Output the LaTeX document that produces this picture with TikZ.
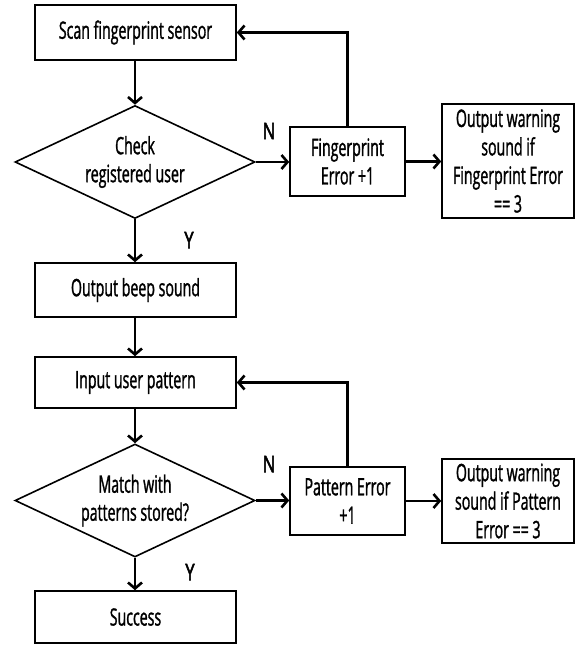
\documentclass[tikz,border=0pt]{standalone}
\usepackage{fontspec}
\setmainfont[FakeStretch=0.59,FakeBold=1.2]{Open Sans}
\newfontfamily\lblfont[FakeStretch=0.72,FakeBold=2.5]{Open Sans}
\usetikzlibrary{shapes.geometric,arrows.meta}
\tikzset{
  box/.style={draw, line width=1.6pt, rectangle, inner sep=0pt, align=center,
    font=\fontsize{24}{28.5}\selectfont},
  dia/.style={draw, line width=1.6pt, diamond, aspect=2.12, inner sep=0pt, align=center,
    minimum width=240pt, minimum height=113pt, font=\fontsize{24}{28}\selectfont},
  arr/.style={line width=2.6pt, -{Straight Barb[length=6pt,width=14pt]}},
  lbl/.style={font=\lblfont\fontsize{23}{25}\selectfont, inner sep=0pt}
}
\begin{document}
\begin{tikzpicture}[x=1pt,y=-1pt]
\useasboundingbox (0,0) rectangle (577,645);
\fill[white] (0,0) rectangle (577,645);
\node[box, minimum width=201pt, minimum height=55pt] (scan) at (135.5,32.5) {Scan fingerprint sensor};
\node[dia] (d1) at (135,162) {Check\\registered user};
\node[box, minimum width=115pt, minimum height=69pt] (fe) at (347.5,161.5) {Fingerprint\\Error +1};
\node[box, minimum width=132pt, minimum height=114pt] (ow1) at (508,161) {Output warning\\sound if\\Fingerprint Error\\== 3};
\node[box, minimum width=201pt, minimum height=54pt] (beep) at (135.5,290) {Output beep sound};
\node[box, minimum width=201pt, minimum height=51pt] (inp) at (135.5,382.5) {Input user pattern};
\node[dia] (d2) at (135,500.5) {Match with\\patterns stored?};
\node[box, minimum width=115pt, minimum height=68pt] (pe) at (347.5,501) {Pattern Error\\+1};
\node[box, minimum width=132pt, minimum height=84pt] (ow2) at (508,501) {Output warning\\sound if Pattern\\Error == 3};
\node[box, minimum width=201pt, minimum height=52pt] (succ) at (135.5,617) {Success};
\node[lbl] (n1) at (269,131) {N};
\node[lbl] (y1) at (189,240) {Y};
\node[lbl] (n2) at (269,464) {N};
\node[lbl] (y2) at (190,572) {Y};
\draw[arr] (scan.south -| d1.north) -- (d1.north);
\draw[arr] (d1.east) -- (fe.west |- d1.east);
\draw[arr] (fe.east) -- (ow1.west |- fe.east);
\draw[arr] (fe.north) |- (scan.east);
\draw[arr] (d1.south) -- (beep.north -| d1.south);
\draw[arr] (beep.south -| d1.south) -- (inp.north -| d1.south);
\draw[arr] (inp.south -| d2.north) -- (d2.north);
\draw[arr] (d2.east) -- (pe.west |- d2.east);
\draw[arr] (pe.east) -- (ow2.west |- pe.east);
\draw[arr] (pe.north) |- (inp.east);
\draw[arr] (d2.south) -- (succ.north -| d2.south);
\end{tikzpicture}
\end{document}
